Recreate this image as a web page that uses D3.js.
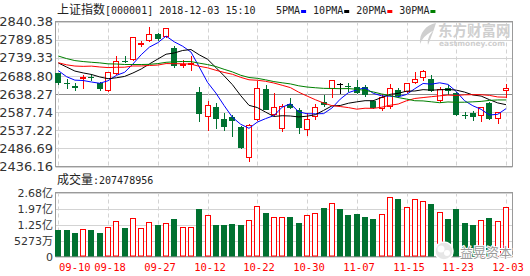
<!DOCTYPE html>
<html>
<head>
<meta charset="utf-8">
<script src="https://cdn.jsdelivr.net/npm/d3@7"></script>
<style>
  body { margin: 0; background: #fff; }
  svg { display: block; }
</style>
</head>
<body>
<svg width="530" height="276"></svg>
<script>
// Trading days (MM-DD)
var dates = [
  "09-10", "09-11", "09-12", "09-13", "09-14", "09-17", "09-18", "09-19", "09-20", "09-21",
  "09-25", "09-26", "09-27", "09-28", "10-08", "10-09", "10-10", "10-11", "10-12", "10-15",
  "10-16", "10-17", "10-18", "10-19", "10-22", "10-23", "10-24", "10-25", "10-26", "10-29",
  "10-30", "10-31", "11-01", "11-02", "11-05", "11-06", "11-07", "11-08", "11-09", "11-12",
  "11-13", "11-14", "11-15", "11-16", "11-19", "11-20", "11-21", "11-22", "11-23", "11-26",
  "11-27", "11-28", "11-29", "11-30", "12-03"
];
var tickDates = ["09-10", "09-18", "09-27", "10-12", "10-22", "10-30", "11-07", "11-15", "11-23", "12-03"];

var priceTicks = [2436.16, 2486.69, 2537.22, 2587.74, 2638.27, 2688.80, 2739.33, 2789.85, 2840.38];
var refPrice = 2638.27;

// OHLC
var openPrices = [
  2696.5, 2668, 2660, 2680, 2687, 2668, 2646, 2695, 2731.5, 2734,
  2776, 2787, 2806, 2796, 2766, 2715, 2718, 2643, 2575, 2603,
  2568.5, 2573, 2545, 2461, 2566, 2651, 2580, 2542, 2610, 2594,
  2538, 2575, 2615, 2652, 2665.43, 2661, 2659, 2659, 2619, 2595.5,
  2603, 2649.5, 2643, 2670, 2684, 2680, 2619, 2654, 2640, 2581,
  2584, 2578, 2612, 2567.5, 2647.5
];
var highPrices = [
  2698, 2679, 2670, 2691, 2693, 2671, 2700.5, 2745, 2743, 2798,
  2786, 2826, 2808, 2822, 2771, 2733, 2744, 2659, 2619, 2612,
  2584, 2580, 2548, 2554, 2675, 2662, 2640, 2609, 2626, 2598,
  2586, 2609, 2636, 2678, 2670, 2668, 2677, 2663, 2621, 2637,
  2665, 2656, 2670, 2699, 2705, 2690, 2658, 2663, 2643, 2589,
  2591, 2603, 2617, 2589, 2665
];
var lowPrices = [
  2664, 2652, 2647, 2652, 2675, 2648, 2645, 2692, 2724, 2730,
  2770, 2782, 2787, 2794, 2710, 2712, 2703, 2561, 2535, 2542,
  2536, 2519, 2484, 2449, 2563, 2593, 2577, 2533, 2597, 2528,
  2522, 2566, 2603, 2626, 2637, 2643, 2637, 2631, 2597, 2591,
  2596, 2626, 2640, 2665, 2675, 2644, 2614, 2635, 2577, 2568,
  2563, 2559, 2566, 2554, 2626
];
var closePrices = [
  2669.48, 2664.80, 2656.11, 2686.58, 2681.64, 2651.79, 2699.95, 2730.85, 2729.24, 2797.49,
  2781.14, 2806.81, 2791.77, 2821.35, 2716.51, 2721.01, 2725.84, 2583.46, 2606.91, 2568.10,
  2546.33, 2561.61, 2486.42, 2550.47, 2654.88, 2594.83, 2603.30, 2603.80, 2598.85, 2542.10,
  2568.05, 2602.78, 2606.24, 2676.48, 2665.43, 2659.36, 2641.34, 2635.63, 2598.87, 2630.52,
  2654.88, 2632.24, 2668.17, 2679.11, 2703.51, 2645.43, 2651.51, 2645.85, 2579.48, 2575.81,
  2574.68, 2601.74, 2567.44, 2588.19, 2654.80
];

// Moving averages
var ma5 = [
  2703.4, 2686.5, 2676.9, 2675.9, 2671.7, 2668.2, 2675.2, 2690.2, 2698.7, 2721.9,
  2747.7, 2769.1, 2781.3, 2799.7, 2783.5, 2771.5, 2755.3, 2713.6, 2670.7, 2641.1,
  2606.1, 2573.3, 2553.9, 2542.6, 2559.9, 2569.6, 2578.0, 2601.5, 2611.1, 2588.6,
  2583.2, 2583.1, 2583.6, 2599.1, 2623.8, 2642.1, 2649.8, 2655.6, 2640.1, 2633.1,
  2632.2, 2630.4, 2636.9, 2653.0, 2667.6, 2665.7, 2669.5, 2665.1, 2645.2, 2619.6,
  2605.5, 2595.5, 2579.8, 2581.6, 2597.4
];
var ma10 = [
  2724.8, 2713.5, 2702.2, 2697.0, 2692.7, 2685.8, 2680.9, 2683.5, 2687.3, 2696.8,
  2708.0, 2722.2, 2735.7, 2749.2, 2752.7, 2759.6, 2762.2, 2747.5, 2735.2, 2712.3,
  2688.8, 2664.3, 2633.8, 2606.7, 2600.5, 2587.9, 2575.6, 2577.7, 2576.9, 2574.3,
  2576.4, 2580.5, 2592.5, 2605.1, 2606.2, 2612.6, 2616.4, 2619.6, 2619.6, 2628.5,
  2637.2, 2640.1, 2646.3, 2646.6, 2650.4, 2649.0, 2650.0, 2651.0, 2649.1, 2643.6,
  2635.6, 2632.5, 2622.5, 2613.4, 2608.5
];
var ma20 = [
  2725.4, 2719.6, 2716.2, 2715.3, 2716.0, 2713.6, 2711.9, 2712.7, 2713.0, 2716.4,
  2716.4, 2717.8, 2718.9, 2723.1, 2722.7, 2722.7, 2721.5, 2715.5, 2711.3, 2704.5,
  2698.4, 2693.2, 2684.7, 2677.9, 2676.6, 2673.7, 2668.9, 2662.6, 2656.0, 2643.3,
  2632.6, 2622.4, 2613.1, 2605.9, 2603.3, 2600.3, 2596.0, 2598.6, 2598.2, 2601.4,
  2606.8, 2610.3, 2619.4, 2625.8, 2628.3, 2630.8, 2633.2, 2635.3, 2634.3, 2636.0,
  2636.4, 2636.3, 2634.4, 2630.0, 2629.4
];
var ma30 = [
  2744.1, 2737.0, 2731.4, 2728.7, 2726.7, 2725.0, 2722.3, 2721.9, 2720.5, 2720.5,
  2720.5, 2721.0, 2723.0, 2726.6, 2728.1, 2728.9, 2728.6, 2724.2, 2720.3, 2714.9,
  2707.1, 2699.9, 2690.5, 2684.3, 2682.0, 2677.8, 2672.9, 2669.5, 2666.4, 2661.1,
  2657.7, 2655.7, 2654.0, 2653.7, 2653.1, 2653.4, 2651.4, 2648.3, 2643.9, 2638.3,
  2634.1, 2628.3, 2624.2, 2619.5, 2619.0, 2616.5, 2614.0, 2616.1, 2615.2, 2615.4,
  2616.4, 2617.7, 2620.4, 2621.7, 2621.7
];
var maNames = ["5PMA", "10PMA", "20PMA", "30PMA"];
var maColors = ["#0000ff", "#000000", "#ff0000", "#008000"];

// Volume in 亿 (1e8 shares)
var volumes = [
  1.12, 1.12, 1.005, 1.16, 1.12, 1.005, 1.24, 1.49, 1.20, 1.62,
  1.20, 1.45, 1.34, 1.41, 1.59, 1.24, 1.24, 2.00, 1.75, 1.30,
  1.30, 1.38, 1.34, 1.54, 2.12, 1.84, 1.66, 1.66, 1.675, 1.42,
  1.72, 1.83, 2.05, 2.25, 1.97, 1.72, 1.80, 1.675, 1.59, 1.80,
  2.50, 2.39, 2.08, 2.42, 2.33, 2.18, 1.87, 1.55, 1.97, 1.42,
  1.34, 1.54, 1.63, 1.47, 2.07478956
];
var volMax = 2.68;
var volTickLabels = ["0", "5273万", "1.25亿", "1.97亿", "2.68亿"];
var lastVolume = "207478956";

var RED = "#ff0000", GREEN = "#007130", GRID = "#d3d3d3", BORDER = "#9a9a9a";
var sans = "'DejaVu Sans', 'Noto Sans CJK SC', sans-serif";
var mono = "'DejaVu Sans Mono', monospace";
var cjk = "'Noto Sans CJK SC', sans-serif";

var svg = d3.select("svg");
var plot = { left: 55.5, right: 512.5, top: 21.5, bottom: 166.5 };
var vplot = { top: 192.5, bottom: 256.5 };

var x = d3.scalePoint().domain(d3.range(dates.length)).range([58.3, 506]);
var y = d3.scaleLinear().domain([priceTicks[0], priceTicks[priceTicks.length - 1]])
  .range([plot.bottom, plot.top]);
var vy = d3.scaleLinear().domain([0, volMax]).range([vplot.bottom, vplot.top]);
var volTicks = d3.range(5).map((k) => (volMax * k) / 4);

var px = (i) => Math.round(x(i));
var tickIdx = tickDates.map((d) => dates.indexOf(d));

// Grid lines
var grid = svg.append("g");
grid.selectAll(".hp").data(priceTicks).enter().append("line")
  .attr("x1", plot.left).attr("x2", plot.right)
  .attr("y1", (d) => Math.round(y(d)) + 0.5).attr("y2", (d) => Math.round(y(d)) + 0.5)
  .attr("stroke", (d) => (d === refPrice ? "#8c8c8c" : GRID));
grid.selectAll(".hv").data(volTicks).enter().append("line")
  .attr("x1", plot.left).attr("x2", plot.right)
  .attr("y1", (d) => Math.round(vy(d)) + 0.5).attr("y2", (d) => Math.round(vy(d)) + 0.5)
  .attr("stroke", GRID);
[[plot.top, plot.bottom], [vplot.top, vplot.bottom]].forEach(function (r) {
  grid.selectAll(null).data(tickIdx).enter().append("line")
    .attr("x1", (i) => px(i) + 0.5).attr("x2", (i) => px(i) + 0.5)
    .attr("y1", r[0]).attr("y2", r[1])
    .attr("stroke", GRID).attr("stroke-dasharray", "4,3");
});

// Watermark
var wm = svg.append("g").attr("fill", "#cfcfcf");
wm.append("path")
  .attr("d", "M436,23 C426,25 419,33 420,44 C423,37 428,33 433,31 C429,35 427,40 428,45 C431,37 434,30 436,23 Z");
wm.append("text").attr("x", 438).attr("y", 35.5).attr("font-family", cjk)
  .attr("font-size", 14.5).attr("font-weight", "bold").text("东方财富网");
wm.append("text").attr("x", 439).attr("y", 46).attr("font-family", sans)
  .attr("font-size", 7.5).attr("font-weight", "bold").text("eastmoney.com");

// Borders
[[plot.top, plot.bottom], [vplot.top, vplot.bottom]].forEach(function (r) {
  svg.append("rect").attr("x", plot.left).attr("y", r[0])
    .attr("width", plot.right - plot.left).attr("height", r[1] - r[0])
    .attr("fill", "none").attr("stroke", BORDER);
});

// Candles
var candles = svg.append("g").selectAll("g").data(d3.range(dates.length)).enter().append("g");
candles.each(function (i) {
  var gc = d3.select(this);
  var cx = px(i) + 0.5;
  var o = Math.round(y(openPrices[i])), c = Math.round(y(closePrices[i]));
  var h = Math.round(y(highPrices[i])), l = Math.round(y(lowPrices[i]));
  if (closePrices[i] > openPrices[i]) {
    gc.append("line").attr("x1", cx).attr("x2", cx).attr("y1", h).attr("y2", c).attr("stroke", RED);
    gc.append("line").attr("x1", cx).attr("x2", cx).attr("y1", o).attr("y2", l).attr("stroke", RED);
    gc.append("rect").attr("x", px(i) - 2.5).attr("y", c + 0.5)
      .attr("width", 5).attr("height", Math.max(o - c - 1, 1))
      .attr("fill", "#fff").attr("stroke", RED);
  } else if (closePrices[i] < openPrices[i]) {
    gc.append("line").attr("x1", cx).attr("x2", cx).attr("y1", h).attr("y2", l).attr("stroke", GREEN);
    gc.append("rect").attr("x", px(i) - 3).attr("y", o)
      .attr("width", 6).attr("height", Math.max(c - o, 1)).attr("fill", GREEN);
  } else {
    gc.append("line").attr("x1", cx).attr("x2", cx).attr("y1", h).attr("y2", l).attr("stroke", "#000");
    gc.append("line").attr("x1", px(i) - 3).attr("x2", px(i) + 3)
      .attr("y1", o + 0.5).attr("y2", o + 0.5).attr("stroke", "#000");
  }
});

// Moving average lines
var line = d3.line().x((d, i) => x(i)).y((d) => y(d));
[ma5, ma10, ma20, ma30].forEach(function (s, k) {
  svg.append("path").datum(s).attr("d", line)
    .attr("fill", "none").attr("stroke", maColors[k]).attr("stroke-width", 1);
});

// Volume bars
var vbars = svg.append("g").selectAll("rect").data(volumes).enter().append("rect");
vbars.each(function (v, i) {
  var up = closePrices[i] > openPrices[i];
  var top = Math.round(vy(v));
  var r = d3.select(this);
  if (up) {
    r.attr("x", px(i) - 2.5).attr("y", top + 0.5).attr("width", 5)
      .attr("height", vplot.bottom - 0.5 - top - 0.5).attr("fill", "#fff").attr("stroke", RED);
  } else {
    r.attr("x", px(i) - 3).attr("y", top).attr("width", 6)
      .attr("height", vplot.bottom - top).attr("fill", GREEN);
  }
});

// Price axis labels
svg.append("g")
  .attr("transform", "translate(" + (plot.left - 2.5) + ",0)")
  .call(d3.axisLeft(y).tickValues(priceTicks).tickSize(0).tickPadding(0).tickFormat(d3.format(".2f")))
  .call((g) => g.select(".domain").remove())
  .selectAll("text").attr("font-family", sans).attr("font-size", 13).attr("fill", "#333");

// Volume axis labels
svg.append("g")
  .attr("transform", "translate(" + (plot.left - 2.5) + ",0)")
  .call(d3.axisLeft(vy).tickValues(volTicks).tickSize(0).tickPadding(0)
    .tickFormat((d, i) => volTickLabels[i]))
  .call((g) => g.select(".domain").remove())
  .selectAll("text").attr("font-family", sans).attr("font-size", 11).attr("fill", "#333");

// Date labels
svg.append("g").selectAll("text").data(tickIdx).enter().append("text")
  .attr("x", (i, k) => (k === 0 ? px(i) + 1 : px(i) + 2))
  .attr("y", 271)
  .attr("text-anchor", (i, k) => (k === 0 ? "start" : "middle"))
  .attr("font-family", mono).attr("font-size", 10.5).attr("fill", RED)
  .text((i) => dates[i]);

// Title
var title = svg.append("text").attr("x", 57).attr("y", 14).attr("fill", "#222");
title.append("tspan").attr("font-family", cjk).attr("font-size", 12).text("上证指数");
title.append("tspan").attr("font-family", mono).attr("font-size", 10).text("[000001] 2018-12-03 15:10");

// MA legend
var lx = 276;
maNames.forEach(function (name, k) {
  var t = svg.append("text").attr("x", lx).attr("y", 14)
    .attr("font-family", mono).attr("font-size", 10).attr("fill", "#222").text(name);
  var w = t.node().getComputedTextLength();
  svg.append("rect").attr("x", lx + w + 1).attr("y", 10).attr("width", 5).attr("height", 3)
    .attr("fill", maColors[k]);
  lx += w + 1 + 5 + 7;
});

// Volume caption
var cap = svg.append("text").attr("x", 57).attr("y", 184).attr("fill", "#222");
cap.append("tspan").attr("font-family", cjk).attr("font-size", 12).text("成交量");
cap.append("tspan").attr("font-family", mono).attr("font-size", 10).text(":" + lastVolume);

// WeChat watermark
var wx = svg.append("g");
wx.append("circle").attr("cx", 444).attr("cy", 251).attr("r", 9)
  .attr("fill", "#e6e6e6").attr("stroke", "#fff").attr("stroke-width", 1.5);
wx.append("circle").attr("cx", 441).attr("cy", 249).attr("r", 3.5).attr("fill", "#fff");
wx.append("circle").attr("cx", 447).attr("cy", 253).attr("r", 3).attr("fill", "#fff");
wx.append("text").attr("x", 460).attr("y", 257)
  .attr("font-family", cjk).attr("font-size", 13).attr("fill", "#9a9a9a")
  .attr("stroke", "#fff").attr("stroke-width", 2).attr("paint-order", "stroke")
  .text("益晃资本");
</script>
</body>
</html>
